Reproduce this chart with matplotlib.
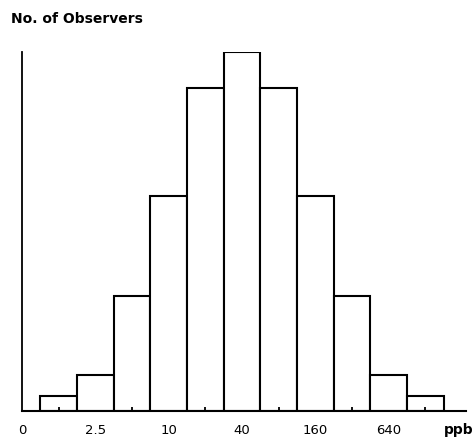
import numpy as np
import matplotlib
matplotlib.use("Agg")
import matplotlib.pyplot as plt

# observers per concentration bin (relative)
counts = [4, 10, 32, 60, 90, 100, 90, 60, 32, 10, 4]
tick_labels = ["0", "2.5", "10", "40", "160", "640"]
tick_pos = [-1, 1, 3, 5, 7, 9]

fig = plt.figure(figsize=(4.76, 4.39), dpi=100)
ax = fig.add_axes([22 / 476, 27.3 / 439, 444 / 476, 358.4 / 439])

x = np.arange(len(counts))
ax.bar(x, counts, width=1.0, color="white", edgecolor="black", linewidth=1.5)

ax.set_xlim(-1, 11.11)
ax.set_ylim(0, 100)

ax.spines["top"].set_visible(False)
ax.spines["right"].set_visible(False)
ax.spines["left"].set_linewidth(1.3)
ax.spines["bottom"].set_linewidth(1.5)

ax.set_yticks([])
ax.set_xticks(tick_pos)
ax.set_xticklabels(tick_labels, fontsize=9.5)
ax.tick_params(axis="x", which="major", length=0, pad=9)
ax.set_xticks(x, minor=True)
ax.tick_params(axis="x", which="minor", direction="in", length=3, width=1.3)

fig.text(11 / 476, 1 - 19 / 439, "No. of Observers", fontsize=10,
         fontweight="bold", va="center", ha="left")
fig.text(459 / 476, 1 - 430 / 439, "ppb", fontsize=10,
         fontweight="bold", va="center", ha="center")

fig.savefig("out.png", dpi=100)
